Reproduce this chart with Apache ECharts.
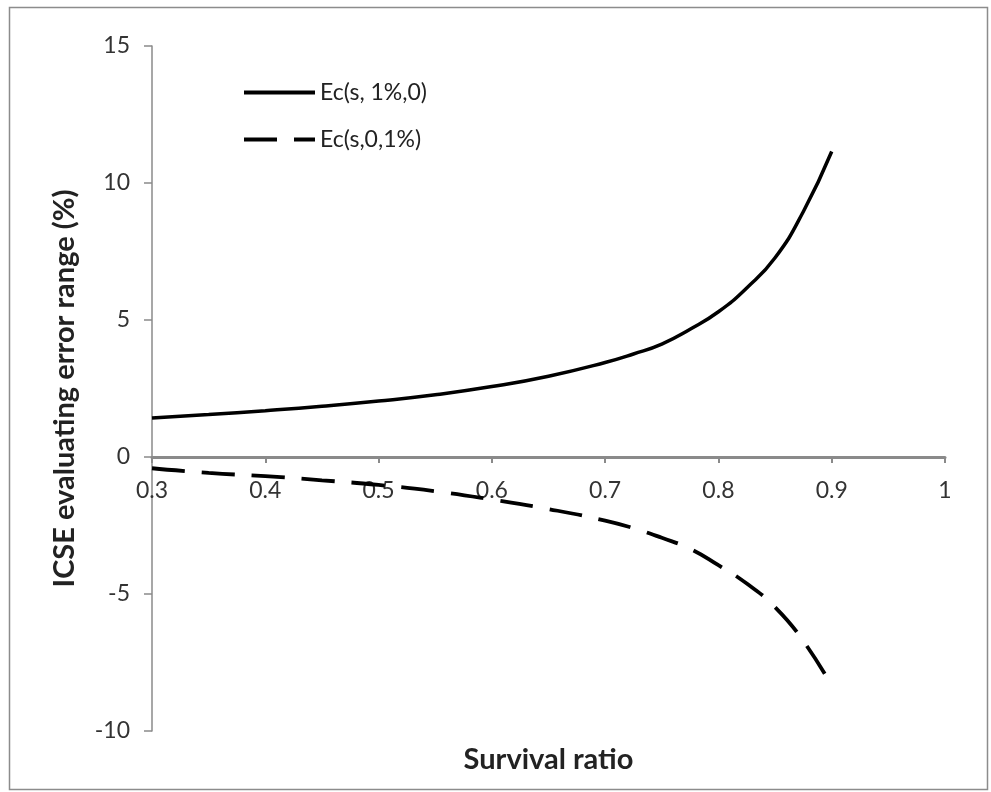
<!DOCTYPE html>
<html>
<head>
<meta charset="utf-8">
<style>html,body{margin:0;padding:0;background:#fff;}#chart{width:991px;height:792px;}</style>
<script src="https://cdn.jsdelivr.net/npm/echarts@6/dist/echarts.min.js"></script>
</head>
<body>
<div id="chart"></div>
<script>
// Data
const survival = [0.30, 0.35, 0.40, 0.45, 0.50, 0.55, 0.60, 0.65, 0.70, 0.725, 0.75, 0.775, 0.80, 0.825, 0.85, 0.875, 0.90];
const ecSolid  = [1.42, 1.55, 1.69, 1.85, 2.04, 2.27, 2.57, 2.95, 3.45, 3.76, 4.12, 4.66, 5.30, 6.17, 7.27, 8.96, 11.15];
const ecDashed = [-0.41, -0.58, -0.70, -0.85, -1.02, -1.25, -1.55, -1.90, -2.32, -2.60, -2.95, -3.35, -3.95, -4.62, -5.48, -6.72, -8.35];
const seriesNames = ['Ec(s, 1%,0)', 'Ec(s,0,1%)'];
const xTitle = 'Survival ratio';
const yTitle = 'ICSE evaluating error range (%)';
const yMin = -10, yMax = 15;

const pair = (xs, ys) => xs.map((x, i) => [x, ys[i]]);
const FONT = 'Lato, "Open Sans", sans-serif';

const GRID = {left: 152, right: 46, top: 46, bottom: 61};
const plotH = 792 - GRID.top - GRID.bottom;
// x axis drawn on y = 0 (labels follow the line, as in the reference)
const zeroOffset = -plotH * (0 - yMin) / (yMax - yMin);

const chart = echarts.init(document.getElementById('chart'), null, {renderer: 'canvas'});
chart.setOption({
  animation: false,
  backgroundColor: '#fff',
  grid: Object.assign({containLabel: false, outerBoundsMode: 'none'}, GRID),
  graphic: [{
    type: 'rect', left: 7, top: 5, z: -1,
    shape: {width: 978, height: 782},
    style: {fill: 'none', stroke: '#8c8c8c', lineWidth: 1.5}
  }],
  legend: {
    left: 237, top: 76, orient: 'vertical', itemWidth: 71, itemHeight: 14, itemGap: 24,
    textStyle: {fontFamily: FONT, fontSize: 23, color: '#222'},
    itemStyle: {opacity: 0},
    lineStyle: {width: 4},
    data: seriesNames
  },
  xAxis: {
    type: 'value', min: 0.3, max: 1, interval: 0.1,
    offset: zeroOffset,
    name: xTitle, nameLocation: 'middle', nameGap: 288,
    nameTextStyle: {fontFamily: FONT, fontSize: 29, fontWeight: 'bold', color: '#222', verticalAlign: 'top'},
    axisLine: {onZero: false, lineStyle: {color: '#8a8a8a', width: 3}},
    axisTick: {show: true, inside: false, length: 6, lineStyle: {color: '#8a8a8a', width: 2}},
    axisLabel: {fontFamily: FONT, fontSize: 23, color: '#333', margin: 22},
    splitLine: {show: false}
  },
  yAxis: {
    type: 'value', min: yMin, max: yMax, interval: 5,
    name: yTitle, nameLocation: 'middle', nameGap: 73, nameRotate: 90,
    nameTextStyle: {fontFamily: FONT, fontSize: 29, fontWeight: 'bold', color: '#222'},
    axisLine: {show: true, lineStyle: {color: '#8a8a8a', width: 1.5}},
    axisTick: {show: true, inside: false, length: 8, lineStyle: {color: '#8a8a8a', width: 1.5}},
    axisLabel: {fontFamily: FONT, fontSize: 23, color: '#333', margin: 22},
    splitLine: {show: false}
  },
  series: [
    {
      name: seriesNames[0], type: 'line', data: pair(survival, ecSolid),
      smooth: 0.5, symbol: 'none', showSymbol: false,
      lineStyle: {color: '#000', width: 3.5, type: 'solid'},
      itemStyle: {color: '#000'}
    },
    {
      name: seriesNames[1], type: 'line', data: pair(survival, ecDashed),
      smooth: 0.5, symbol: 'none', showSymbol: false,
      lineStyle: {color: '#000', width: 3.8, type: [33, 17]},
      itemStyle: {color: '#000'}
    }
  ]
});
</script>
</body>
</html>
